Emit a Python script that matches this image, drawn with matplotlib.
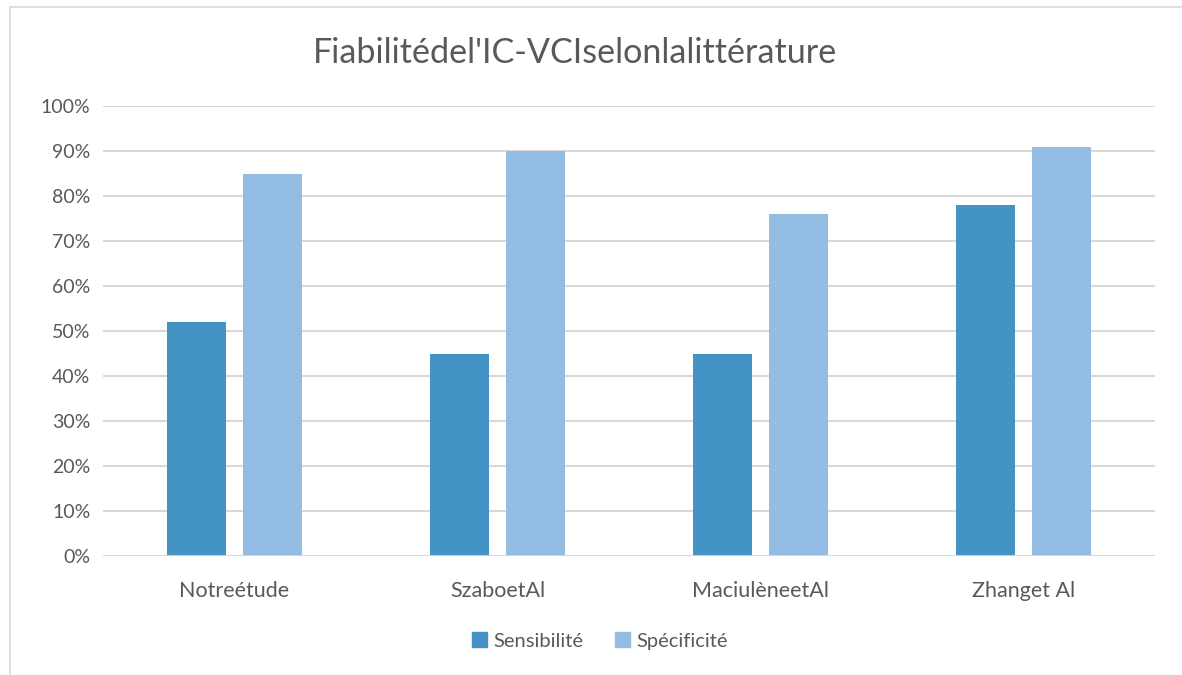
import matplotlib
matplotlib.use("Agg")
import matplotlib.pyplot as plt
from matplotlib.patches import Rectangle, Patch
from matplotlib.ticker import PercentFormatter
import numpy as np

plt.rcParams['font.family'] = ['Lato', 'DejaVu Sans']

categories = ["Notreétude", "SzaboetAl", "MaciulèneetAl", "Zhanget Al"]
sensibilite = [52, 45, 45, 78]
specificite = [85, 90, 76, 91]
series_names = ["Sensibilité", "Spécificité"]
title = "Fiabilitédel'IC-VCIselonlalittérature"

text_color = "#595959"
grid_color = "#d9d9d9"
colors = ["#4493C5", "#93BDE3"]

W, H = 1182, 675
fig = plt.figure(figsize=(W / 100, H / 100), dpi=100)

# chart frame
fig.patches.append(Rectangle((10 / W, -0.1), 1.2, 1 - 7 / H + 0.1,
                             transform=fig.transFigure, fill=False,
                             edgecolor=grid_color, linewidth=1.2))

ax = fig.add_axes([103 / W, 1 - 556 / H, (1155 - 103) / W, (556 - 106) / H])

x = np.arange(len(categories))
bw = 0.225
off = 0.143
ax.bar(x - off, sensibilite, width=bw, color=colors[0], zorder=3)
ax.bar(x + off, specificite, width=bw, color=colors[1], zorder=3)

ax.set_xlim(-0.5, len(categories) - 0.5)
ax.set_ylim(0, 100)
ax.set_yticks(np.arange(0, 101, 10))
ax.yaxis.set_major_formatter(PercentFormatter(decimals=0))
ax.grid(axis='y', color=grid_color, linewidth=1.5, zorder=0)
ax.set_axisbelow(True)
for s in ax.spines.values():
    s.set_visible(False)
ax.axhline(0, color=grid_color, linewidth=2, zorder=4)
ax.set_xticks(x)
ax.set_xticklabels(categories)
ax.tick_params(axis='both', length=0, colors=text_color)
ax.tick_params(axis='x', pad=18, labelsize=15.5)
ax.tick_params(axis='y', pad=9, labelsize=14)
for lbl in ax.get_yticklabels():
    lbl.set_clip_on(False)

fig.text(575 / W, 1 - 53 / H, title, ha='center', va='center',
         fontsize=24.6, color=text_color)

handles = [Patch(color=c) for c in colors]
fig.legend(handles, series_names, loc='center', bbox_to_anchor=(600 / W, 1 - 641 / H),
           ncol=2, frameon=False, fontsize=14.5, labelcolor=text_color,
           handlelength=0.75, handleheight=0.75, handletextpad=0.3,
           columnspacing=1.6)

fig.savefig("out.png", dpi=100)
